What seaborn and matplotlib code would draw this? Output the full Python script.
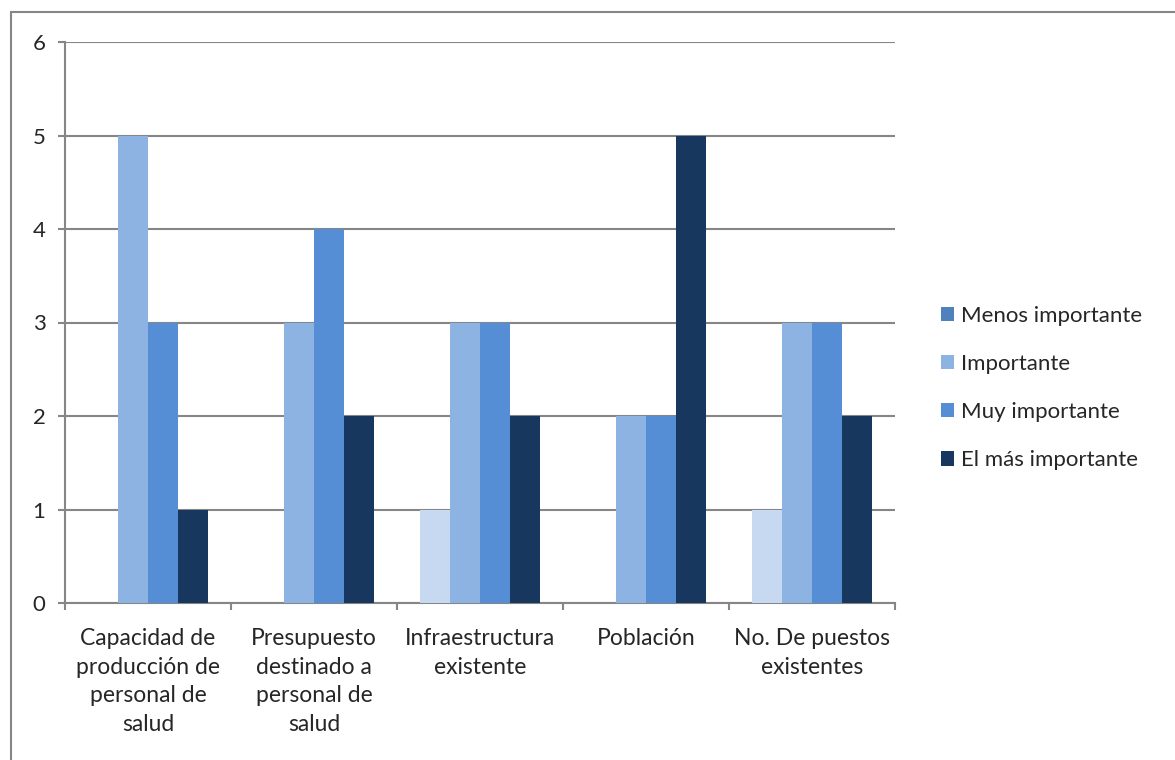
import matplotlib
matplotlib.use("Agg")
import matplotlib.pyplot as plt
from matplotlib.patches import Rectangle, Patch
import seaborn as sns
import pandas as pd

categories = [
    "Capacidad de\nproducción de\npersonal de\nsalud",
    "Presupuesto\ndestinado a\npersonal de\nsalud",
    "Infraestructura\nexistente",
    "Población",
    "No. De puestos\nexistentes",
]
series = ["Menos importante", "Importante", "Muy importante", "El más importante"]
menos_importante = [0, 0, 1, 0, 1]
importante = [5, 3, 3, 2, 3]
muy_importante = [3, 4, 3, 2, 3]
el_mas_importante = [1, 2, 2, 5, 2]

bar_colors = ["#C6D9F1", "#8DB3E2", "#558ED5", "#17375E"]
legend_colors = ["#4F81BD", "#8DB3E2", "#558ED5", "#17375E"]

rows = []
for name, vals in zip(series, [menos_importante, importante, muy_importante, el_mas_importante]):
    for cat, v in zip(categories, vals):
        rows.append({"categoria": cat, "serie": name, "valor": v})
df = pd.DataFrame(rows)

sns.set_style("white")
plt.rcParams["font.family"] = ["Lato", "DejaVu Sans"]

fig = plt.figure(figsize=(11.75, 7.6), dpi=100)
ax = fig.add_axes([65 / 1175, 1 - 603 / 760, 830 / 1175, 561 / 760])

sns.barplot(data=df, x="categoria", y="valor", hue="serie", order=categories,
            hue_order=series, palette=bar_colors, width=0.72, saturation=1,
            linewidth=0, legend=False, ax=ax, zorder=3)

ax.set_ylim(0, 6)
ax.set_xlim(-0.5, len(categories) - 0.5)
ax.set_yticks(range(0, 7))
ax.yaxis.grid(True, color="#868686", linewidth=1.5, zorder=0)
ax.set_axisbelow(True)
ax.set_xlabel("")
ax.set_ylabel("")

for side in ["top", "right"]:
    ax.spines[side].set_visible(False)
for side in ["left", "bottom"]:
    ax.spines[side].set_color("#868686")
    ax.spines[side].set_linewidth(1.5)

ax.set_xticks([i - 0.5 for i in range(len(categories) + 1)], minor=True)
ax.tick_params(axis="x", which="minor", bottom=True, length=5, width=1.5,
               color="#868686", direction="out")
ax.tick_params(axis="x", which="major", bottom=True, length=0, pad=18, labelsize=16.5)
ax.tick_params(axis="y", left=True, length=5, width=1.5, color="#868686",
               direction="out", pad=9, labelsize=16)
for lbl in ax.get_xticklabels():
    lbl.set_horizontalalignment("center")
    lbl.set_multialignment("center")
    lbl.set_linespacing(1.45)

handles = [Patch(facecolor=c, edgecolor="none") for c in legend_colors]
fig.legend(handles, series, loc="center left", bbox_to_anchor=(941 / 1175, 1 - 388 / 760),
           frameon=False, fontsize=16, handlelength=0.6, handleheight=0.6,
           handletextpad=0.3, labelspacing=1.27, borderaxespad=0, borderpad=0)

fig.patches.append(Rectangle((11 / 1175, -0.05), 1.2, 1.05 - 12 / 760,
                             transform=fig.transFigure, fill=False,
                             edgecolor="#868686", linewidth=1.5))

fig.savefig("out.png", dpi=100, facecolor="white")
